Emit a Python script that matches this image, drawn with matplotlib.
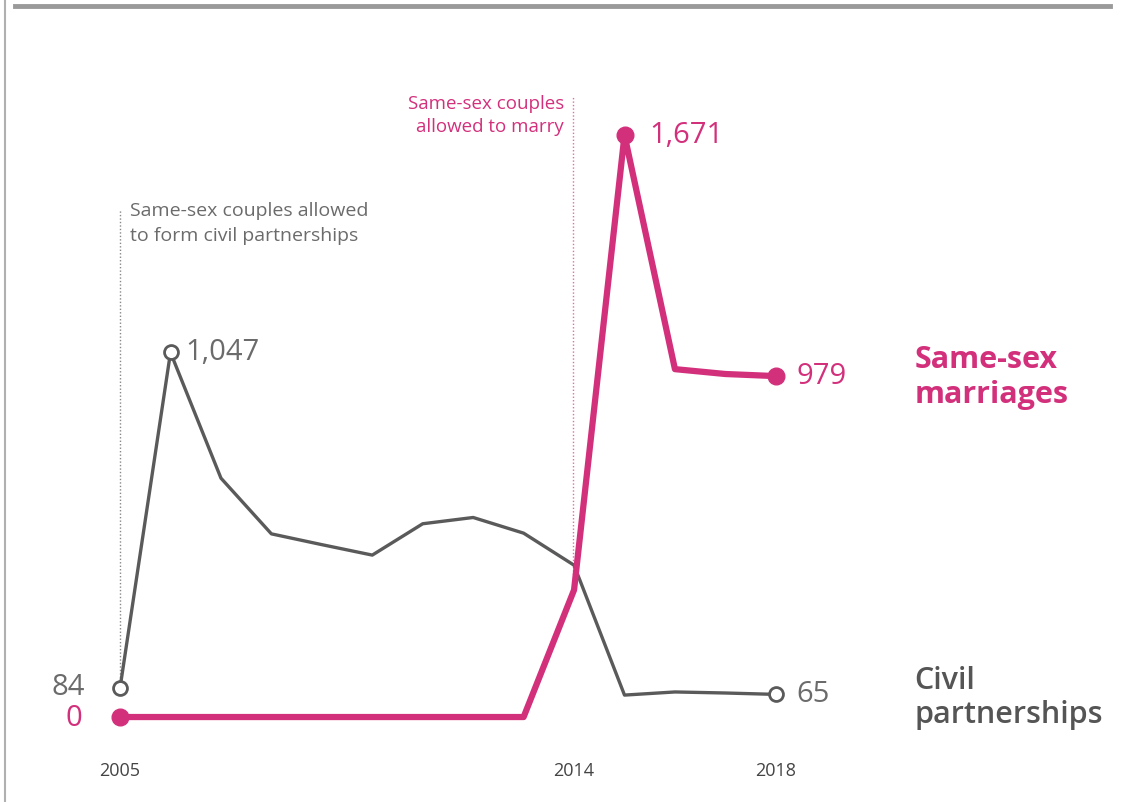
import matplotlib.pyplot as plt
from matplotlib.lines import Line2D

years = list(range(2005, 2019))
civil = [84, 1047, 686, 526, 495, 465, 555, 573, 528, 436, 63, 72, 69, 65]
marriages = [0, 0, 0, 0, 0, 0, 0, 0, 0, 365, 1671, 999, 985, 979]
tick_years = [2005, 2014, 2018]

pink = '#d3307c'
grey_line = '#5a5a5a'
grey_text = '#6b6b6b'

plt.rcParams['font.family'] = ['Open Sans', 'DejaVu Sans']

fig = plt.figure(figsize=(11.34, 8.02), dpi=100)
ax = fig.add_axes([0, 0, 1, 1])
ax.set_xlim(2002.62, 2025.1)
ax.set_ylim(-244, 2059)
ax.axis('off')

# frame bits of the original screenshot
fig.add_artist(Line2D([15 / 1134, 1110 / 1134], [1 - 6 / 802, 1 - 6 / 802],
                      color='#9a9a9a', lw=3.5))
fig.add_artist(Line2D([5 / 1134, 5 / 1134], [0, 1], color='#b0b0b0', lw=1.5))

# event lines
ax.plot([2005, 2005], [84, 1460], color='#888888', lw=1, ls=(0, (1, 1.5)))
ax.text(2005.2, 1480, 'Same-sex couples allowed\nto form civil partnerships',
        fontsize=14, color=grey_text, va='top', ha='left', linespacing=1.55)
ax.plot([2013.97, 2013.97], [400, 1780], color=pink, lw=1, ls=(0, (1, 1.5)),
        alpha=0.7)
ax.text(2013.8, 1785, 'Same-sex couples\nallowed to marry',
        fontsize=13.5, color=pink, va='top', ha='right', linespacing=1.3)

ax.plot(years, civil, color=grey_line, lw=2.4, marker='o', ms=10,
        mfc='white', mec=grey_line, mew=2, markevery=[0, 1, 13], zorder=3)
ax.plot(years, marriages, color=pink, lw=4.5, marker='o', ms=12,
        mfc=pink, mec=pink, markevery=[0, 10, 13], zorder=4)

# value labels
ax.text(2006.3, 1047, '1,047', fontsize=21, color=grey_text, va='center')
ax.text(2015.5, 1671, '1,671', fontsize=21, color=pink, va='center')
ax.text(2018.4, 979, '979', fontsize=21, color=pink, va='center')
ax.text(2018.4, 65, '65', fontsize=21, color=grey_text, va='center')
ax.text(2004.3, 84, '84', fontsize=21, color=grey_text, va='center', ha='right')
ax.text(2004.25, -5, '0', fontsize=21, color=pink, va='center', ha='right')

ax.text(2020.75, 975, 'Same-sex\nmarriages', fontsize=22, color=pink,
        fontweight='bold', va='center', ha='left', linespacing=1.2)
ax.text(2020.75, 55, 'Civil\npartnerships', fontsize=22, color='#555555',
        fontweight='semibold', va='center', ha='left', linespacing=1.2)

for yr in tick_years:
    ax.text(yr, -155, str(yr), fontsize=13, color='#444444', ha='center',
            va='center')

fig.savefig('out.png', dpi=100)
